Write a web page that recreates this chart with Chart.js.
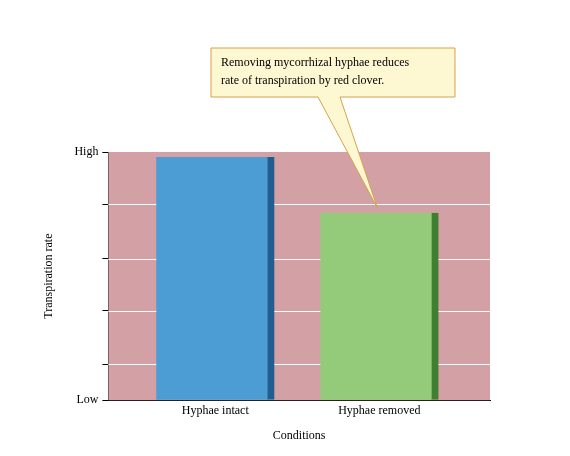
<!DOCTYPE html><html><head><meta charset="utf-8">
<script src="https://cdn.jsdelivr.net/npm/chart.js@4/dist/chart.umd.min.js"></script>
<style>body{margin:0;background:#fff}#w{width:570px;height:456px}</style></head><body><div id="w"><canvas id="c"></canvas></div>
<script>
const categories=["Hyphae intact","Hyphae removed"];
const positions=[0.28,0.71];
const values=[98,75.5];
const yTicks=[0,14.5,36,57,79,100];
const yTickLabels={0:"Low",100:"High"};
const barColors=["#4b9dd3","#93cb7b"];
const edgeColors=["#1f5e8e","#3f7f32"];
const note=["Removing mycorrhizal hyphae reduces","rate of transpiration by red clover."];
const F="'Liberation Serif','DejaVu Serif',serif";
const deco={id:'deco',
 beforeDatasetsDraw(c){const a=c.chartArea,x=c.ctx;x.save();x.fillStyle='#d3a1a5';x.fillRect(a.left,a.top,a.right-a.left,a.bottom-a.top);
  x.strokeStyle='#fff';x.lineWidth=1;const y=c.scales.y;yTicks.slice(1,-1).forEach(v=>{const p=Math.round(y.getPixelForValue(v))+0.5;x.beginPath();x.moveTo(a.left,p);x.lineTo(a.right,p);x.stroke();});x.restore();},
 afterDatasetsDraw(c){const x=c.ctx,xs=c.scales.x,y=c.scales.y;x.save();
  const tx=xs.getPixelForValue(positions[1]),ty=y.getPixelForValue(values[1]);
  const bx=211,by=48,bw=244,bh=49;
  x.fillStyle='#fdf7d2';x.strokeStyle='#d5a24a';x.lineWidth=1;
  x.beginPath();x.moveTo(bx,by);x.lineTo(bx+bw,by);x.lineTo(bx+bw,by+bh);x.lineTo(340,by+bh);x.lineTo(tx-2,ty-5);x.lineTo(318,by+bh);x.lineTo(bx,by+bh);x.closePath();x.fill();x.stroke();
  x.fillStyle='#000';x.font='12px '+F;x.textAlign='left';x.textBaseline='middle';x.fillText(note[0],bx+10,by+15);x.fillText(note[1],bx+10,by+33);
  x.restore();}};
new Chart(document.getElementById('c'),{type:'bar',plugins:[deco],
 data:{datasets:[{data:positions.map((p,i)=>({x:p,y:values[i]})),backgroundColor:barColors,borderColor:edgeColors,borderWidth:{right:7,left:0,top:0,bottom:0},borderSkipped:false,barThickness:118}]},
 options:{responsive:true,maintainAspectRatio:false,animation:false,
  layout:{padding:{top:152,right:80,left:38,bottom:9}},
  plugins:{legend:{display:false},tooltip:{enabled:false}},
  scales:{
   x:{type:'linear',min:0,max:1,offset:false,afterBuildTicks(s){s.ticks=positions.map(v=>({value:v}));},
      ticks:{callback:(v,i)=>categories[i],color:'#000',font:{family:F,size:12},maxRotation:0,autoSkip:false},
      grid:{display:false,drawTicks:false,offset:false},border:{color:'#000'},
      title:{display:true,text:'Conditions',color:'#000',font:{family:F,size:12},padding:{top:8}}},
   y:{min:0,max:100,afterBuildTicks(s){s.ticks=yTicks.map(v=>({value:v}));},
      ticks:{callback:v=>yTickLabels[v]||'',color:'#000',font:{family:F,size:12},padding:4},
      grid:{display:true,drawOnChartArea:false,tickLength:6,color:'#000'},border:{color:'#000'},
      title:{display:true,text:'Transpiration rate',color:'#000',font:{family:F,size:12},padding:{bottom:14}}}}}});
</script></body></html>
